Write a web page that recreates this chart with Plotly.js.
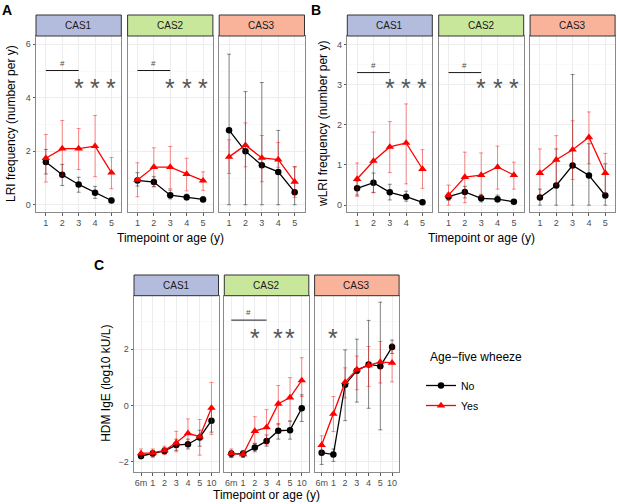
<!DOCTYPE html>
<html><head><meta charset="utf-8">
<script src="https://cdn.plot.ly/plotly-3.0.1.min.js"></script>
<style>html,body{margin:0;padding:0;background:#fff}</style>
</head><body><div id="chart" style="width:617px;height:504px"></div>
<script>
// ---------------- DATA ----------------
const yearsAB = [1, 2, 3, 4, 5];
const agesC = ['6m', '1', '2', '3', '4', '5', '10'];
const casNames = ['CAS1', 'CAS2', 'CAS3'];
const groupNames = ['No', 'Yes'];

// A: LRI frequency (number per y)
const lriNoCAS1 = [1.60, 1.12, 0.76, 0.45, 0.16];
const lriNoCAS1Lo = [1.15, 0.72, 0.47, 0.24, 0.08];
const lriNoCAS1Hi = [2.07, 1.51, 1.03, 0.69, 0.25];
const lriYesCAS1 = [1.74, 2.10, 2.10, 2.19, 1.20];
const lriYesCAS1Lo = [0.85, 1.08, 1.32, 1.05, 0.60];
const lriYesCAS1Hi = [2.63, 3.15, 2.85, 3.34, 1.77];
const lriNoCAS2 = [0.91, 0.85, 0.36, 0.28, 0.20];
const lriNoCAS2Lo = [0.70, 0.68, 0.22, 0.18, 0.12];
const lriNoCAS2Hi = [1.20, 1.05, 0.55, 0.40, 0.30];
const lriYesCAS2 = [0.93, 1.41, 1.41, 1.15, 0.90];
const lriYesCAS2Lo = [0.30, 0.67, 0.60, 0.52, 0.54];
const lriYesCAS2Hi = [1.57, 2.13, 2.18, 1.74, 1.23];
const lriNoCAS3 = [2.79, 2.00, 1.48, 1.23, 0.47];
const lriNoCAS3Lo = [0, 0, 0, 0, 0];
const lriNoCAS3Hi = [5.63, 4.23, 4.57, 2.78, 1.42];
const lriYesCAS3 = [1.79, 2.23, 1.75, 1.69, 0.86];
const lriYesCAS3Lo = [1.17, 1.42, 0.86, 1.40, 0.28];
const lriYesCAS3Hi = [2.43, 3.06, 2.59, 2.33, 1.42];

// B: wLRI frequency (number per y)
const wlriNoCAS1 = [0.42, 0.56, 0.32, 0.21, 0.07];
const wlriNoCAS1Lo = [0.25, 0.31, 0.13, 0.10, 0.02];
const wlriNoCAS1Hi = [0.60, 0.80, 0.52, 0.35, 0.13];
const wlriYesCAS1 = [0.65, 1.10, 1.45, 1.55, 0.90];
const wlriYesCAS1Lo = [0.22, 0.32, 0.81, 0.53, 0.42];
const wlriYesCAS1Hi = [1.05, 1.82, 2.08, 2.52, 1.38];
const wlriNoCAS2 = [0.21, 0.33, 0.17, 0.15, 0.085];
const wlriNoCAS2Lo = [0.12, 0.18, 0.08, 0.08, 0.04];
const wlriNoCAS2Hi = [0.30, 0.47, 0.27, 0.25, 0.13];
const wlriYesCAS2 = [0.25, 0.70, 0.75, 0.95, 0.75];
const wlriYesCAS2Lo = [0.00, 0.06, 0.22, 0.40, 0.40];
const wlriYesCAS2Hi = [0.50, 1.32, 1.30, 1.47, 1.07];
const wlriNoCAS3 = [0.19, 0.49, 0.99, 0.74, 0.24];
const wlriNoCAS3Lo = [0, 0, 0, 0, 0];
const wlriNoCAS3Hi = [0.40, 1.40, 3.25, 1.53, 1.03];
const wlriYesCAS3 = [0.80, 1.13, 1.38, 1.69, 0.80];
const wlriYesCAS3Lo = [0.20, 0.50, 0.64, 1.03, 0.30];
const wlriYesCAS3Hi = [1.40, 1.73, 2.10, 2.32, 1.29];

// C: HDM IgE (log10 kU/L)
const igeNoCAS1 = [-1.80, -1.71, -1.62, -1.41, -1.38, -1.14, -0.54];
const igeNoCAS1Lo = [-1.90, -1.80, -1.72, -1.60, -1.55, -1.45, -0.95];
const igeNoCAS1Hi = [-1.70, -1.60, -1.50, -1.20, -1.20, -0.88, -0.15];
const igeYesCAS1 = [-1.71, -1.69, -1.60, -1.33, -0.99, -1.11, -0.09];
const igeYesCAS1Lo = [-1.85, -1.85, -1.75, -1.65, -1.38, -1.77, -1.03];
const igeYesCAS1Hi = [-1.55, -1.55, -1.45, -0.92, -0.48, -0.50, 0.82];
const igeNoCAS2 = [-1.72, -1.72, -1.50, -1.27, -0.90, -0.88, -0.10];
const igeNoCAS2Lo = [-1.85, -1.85, -1.65, -1.45, -1.20, -1.20, -0.57];
const igeNoCAS2Hi = [-1.60, -1.60, -1.35, -1.05, -0.65, -0.55, 0.38];
const igeYesCAS2 = [-1.70, -1.74, -0.91, -0.78, 0.06, 0.28, 0.89];
const igeYesCAS2Lo = [-1.85, -1.85, -1.35, -1.40, -0.69, -0.57, 0.32];
const igeYesCAS2Hi = [-1.55, -1.65, -0.40, -0.15, 0.71, 0.99, 1.70];
const igeNoCAS3 = [-1.68, -1.75, 0.74, 1.24, 1.46, 1.40, 2.08];
const igeNoCAS3Lo = [-2.10, -1.99, -0.54, 0.12, -0.10, -0.87, 1.85];
const igeNoCAS3Hi = [-1.45, -1.55, 1.98, 2.36, 3.03, 3.68, 2.33];
const igeYesCAS3 = [-1.41, -0.30, 0.83, 1.28, 1.43, 1.55, 1.52];
const igeYesCAS3Lo = [-1.70, -0.93, 0.27, 0.56, 0.68, 0.80, 0.84];
const igeYesCAS3Hi = [-1.08, 0.32, 1.34, 1.76, 2.10, 2.28, 2.20];

// significance marks
const hashSpanLri = [1, 3];
const starsLriCAS1 = [3, 4, 5];
const starsLriCAS2 = [3, 4, 5];
const hashSpanWlri = [1, 3];
const starsWlriCAS1 = [3, 4, 5];
const starsWlriCAS2 = [3, 4, 5];
const hashSpanIgeCAS2 = ['6m', '3'];
const starsIgeCAS2 = ['2', '4', '5'];
const starsIgeCAS3 = ['1'];

// ---------------- LAYOUT HELPERS ----------------
const W = 617, H = 504;
const FONT = 'Liberation Sans, Arial, Helvetica, sans-serif';
const px = v => v / W;
const py = v => 1 - v / H;
const stripColors = ['#b3bcdd', '#c9e79b', '#f9b39b'];

const rows = [
  { key: 'A', top: 36, bottom: 212, stripTop: 15, lefts: [36, 127.6, 219.2], width: 85.3,
    x: yearsAB, cat: false, yrange: [-0.27, 6.31], dtick: 2, minor: 1,
    series: [
      [[lriNoCAS1, lriNoCAS1Lo, lriNoCAS1Hi], [lriYesCAS1, lriYesCAS1Lo, lriYesCAS1Hi]],
      [[lriNoCAS2, lriNoCAS2Lo, lriNoCAS2Hi], [lriYesCAS2, lriYesCAS2Lo, lriYesCAS2Hi]],
      [[lriNoCAS3, lriNoCAS3Lo, lriNoCAS3Hi], [lriYesCAS3, lriYesCAS3Lo, lriYesCAS3Hi]]],
    hash: [hashSpanLri, hashSpanLri, null], stars: [starsLriCAS1, starsLriCAS2, null],
    hashY: 5.02, hashTextY: 5.3, starY: 4.5, xtitleY: 238,
    ytitle: 'LRI frequency (number per y)', ytitleX: 11, letterX: 7, letterY: 10 },
  { key: 'B', top: 36, bottom: 212, stripTop: 15, lefts: [347.3, 438.7, 530.1], width: 85,
    x: yearsAB, cat: false, yrange: [-0.17, 4.21], dtick: 1, minor: 0.5,
    series: [
      [[wlriNoCAS1, wlriNoCAS1Lo, wlriNoCAS1Hi], [wlriYesCAS1, wlriYesCAS1Lo, wlriYesCAS1Hi]],
      [[wlriNoCAS2, wlriNoCAS2Lo, wlriNoCAS2Hi], [wlriYesCAS2, wlriYesCAS2Lo, wlriYesCAS2Hi]],
      [[wlriNoCAS3, wlriNoCAS3Lo, wlriNoCAS3Hi], [wlriYesCAS3, wlriYesCAS3Lo, wlriYesCAS3Hi]]],
    hash: [hashSpanWlri, hashSpanWlri, null], stars: [starsWlriCAS1, starsWlriCAS2, null],
    hashY: 3.3, hashTextY: 3.47, starY: 3.0, xtitleY: 238,
    ytitle: 'wLRI frequency (number per y)', ytitleX: 323, letterX: 316, letterY: 10 },
  { key: 'C', top: 295.7, bottom: 472, stripTop: 275, lefts: [134, 224.3, 314.6], width: 84.5,
    x: agesC, cat: true, yrange: [-2.37, 3.91], dtick: 2, minor: 1,
    series: [
      [[igeNoCAS1, igeNoCAS1Lo, igeNoCAS1Hi], [igeYesCAS1, igeYesCAS1Lo, igeYesCAS1Hi]],
      [[igeNoCAS2, igeNoCAS2Lo, igeNoCAS2Hi], [igeYesCAS2, igeYesCAS2Lo, igeYesCAS2Hi]],
      [[igeNoCAS3, igeNoCAS3Lo, igeNoCAS3Hi], [igeYesCAS3, igeYesCAS3Lo, igeYesCAS3Hi]]],
    hash: [null, hashSpanIgeCAS2, null], stars: [null, starsIgeCAS2, starsIgeCAS3],
    hashY: 3.04, hashTextY: 3.3, starY: 2.54, xtitleY: 495,
    ytitle: 'HDM IgE (log10 kU/L)', ytitleX: 106, letterX: 99, letterY: 265 }
];

const styles = [
  { color: '#000000', err: 'rgba(0,0,0,0.45)', symbol: 'circle', size: 6.5 },
  { color: '#ff0000', err: 'rgba(255,0,0,0.45)', symbol: 'triangle-up', size: 7.5 }
];

const traces = [];
const layout = {
  width: W, height: H, margin: { l: 0, r: 0, t: 0, b: 0 },
  paper_bgcolor: '#fff', plot_bgcolor: '#fff',
  font: { family: FONT, color: '#000' },
  showlegend: true,
  legend: {
    x: px(421), y: py(371), xanchor: 'left', yanchor: 'top',
    font: { size: 10.5, family: FONT, color: '#000' },
    bgcolor: 'rgba(0,0,0,0)', tracegroupgap: 1, itemwidth: 30
  },
  shapes: [], annotations: [
    { xref: 'paper', yref: 'paper', x: px(428), y: py(357), xanchor: 'left', yanchor: 'middle',
      text: 'Age\u2212five wheeze', showarrow: false, font: { size: 12, family: FONT, color: '#000' } }
  ]
};

const toIndex = (row, v) => row.cat ? row.x.indexOf(v) : v;

let k = 0;
rows.forEach((row, ri) => {
  casNames.forEach((cas, ci) => {
    k += 1;
    const xa = 'xaxis' + (k === 1 ? '' : k), ya = 'yaxis' + (k === 1 ? '' : k);
    const xr = 'x' + (k === 1 ? '' : k), yr = 'y' + (k === 1 ? '' : k);
    const left = row.lefts[ci], right = left + row.width;
    const first = ci === 0;
    layout[xa] = {
      domain: [px(left), px(right)], anchor: yr,
      type: row.cat ? 'category' : 'linear',
      range: row.cat ? [-0.6, row.x.length - 0.4] : [0.4, 5.6],
      tickmode: row.cat ? undefined : 'array',
      tickvals: row.cat ? undefined : row.x,
      categoryorder: row.cat ? 'array' : undefined,
      categoryarray: row.cat ? row.x : undefined,
      ticks: 'outside', ticklen: 2.5, tickcolor: '#333', tickwidth: 0.8,
      tickfont: { size: 9, color: '#4d4d4d', family: FONT },
      showgrid: true, gridcolor: '#ebebeb', gridwidth: 0.9,
      zeroline: false, showline: true, mirror: true, linecolor: '#8a8a8a', linewidth: 1,
      fixedrange: true
    };
    layout[ya] = {
      domain: [py(row.bottom), py(row.top)], anchor: xr,
      range: row.yrange, tickmode: 'linear', tick0: 0, dtick: row.dtick,
      ticks: first ? 'outside' : '', ticklen: 2.5, tickcolor: '#333', tickwidth: 0.8,
      showticklabels: first,
      tickfont: { size: 9, color: '#4d4d4d', family: FONT },
      showgrid: true, gridcolor: '#ebebeb', gridwidth: 0.9,
      minor: { dtick: row.minor, tick0: 0, showgrid: true, gridcolor: '#f5f5f5', gridwidth: 0.6, ticks: '' },
      zeroline: false, showline: true, mirror: true, linecolor: '#8a8a8a', linewidth: 1,
      fixedrange: true
    };

    // traces
    row.series[ci].forEach((s, gi) => {
      const [vals, lo, hi] = s;
      const st = styles[gi];
      traces.push({
        type: 'scatter', mode: 'lines+markers',
        x: row.x, y: vals, xaxis: xr, yaxis: yr,
        name: groupNames[gi], legendgroup: groupNames[gi], showlegend: k === 1,
        line: { color: st.color, width: 1.3 },
        marker: { color: st.color, symbol: st.symbol, size: st.size, line: { width: 0 } },
        error_y: {
          type: 'data', symmetric: false,
          array: hi.map((h, i) => h - vals[i]),
          arrayminus: lo.map((l, i) => vals[i] - l),
          color: st.err, thickness: 1, width: 2
        },
        hoverinfo: 'skip'
      });
    });

    // strip
    layout.shapes.push({
      type: 'rect', xref: 'paper', yref: 'paper',
      x0: px(left), x1: px(right), y0: py(row.top), y1: py(row.stripTop),
      fillcolor: stripColors[ci], line: { color: '#333', width: 1 }, layer: 'above'
    });
    layout.annotations.push({
      xref: 'paper', yref: 'paper', x: px((left + right) / 2), y: py((row.top + row.stripTop) / 2),
      text: cas, showarrow: false, xanchor: 'center', yanchor: 'middle',
      font: { size: 10, color: '#1a1a1a', family: FONT }
    });

    // significance
    const hs = row.hash[ci];
    if (hs) {
      layout.shapes.push({
        type: 'line', xref: xr, yref: yr,
        x0: toIndex(row, hs[0]), x1: toIndex(row, hs[1]), y0: row.hashY, y1: row.hashY,
        line: { color: '#1a1a1a', width: 1 }
      });
      layout.annotations.push({
        xref: xr, yref: yr, x: (toIndex(row, hs[0]) + toIndex(row, hs[1])) / 2, y: row.hashTextY,
        text: '#', showarrow: false, font: { size: 8, color: '#4d4d4d', family: FONT }
      });
    }
    const sts = row.stars[ci];
    if (sts) {
      sts.forEach(sx => {
        layout.annotations.push({
          xref: xr, yref: yr, x: toIndex(row, sx), y: row.starY,
          text: '*', showarrow: false, yanchor: 'middle', yshift: -3.5,
          font: { size: 25, color: '#555', family: FONT }
        });
      });
    }
  });

  // row-level annotations
  const l0 = row.lefts[0], r2 = row.lefts[2] + row.width;
  layout.annotations.push({
    xref: 'paper', yref: 'paper', x: px(row.ytitleX), y: py((row.top + row.bottom) / 2),
    text: row.ytitle, textangle: -90, showarrow: false, xanchor: 'center', yanchor: 'middle',
    font: { size: 12, color: '#000', family: FONT }
  });
  layout.annotations.push({
    xref: 'paper', yref: 'paper', x: px((l0 + r2) / 2), y: py(row.xtitleY),
    text: 'Timepoint or age (y)', showarrow: false, xanchor: 'center', yanchor: 'middle',
    font: { size: 12, color: '#000', family: FONT }
  });
  layout.annotations.push({
    xref: 'paper', yref: 'paper', x: px(row.letterX), y: py(row.letterY),
    text: '<b>' + row.key + '</b>', showarrow: false, xanchor: 'center', yanchor: 'middle',
    font: { size: 14, color: '#000', family: FONT }
  });
});

Plotly.newPlot('chart', traces, layout, { staticPlot: true, displayModeBar: false });
</script>
</body></html>
